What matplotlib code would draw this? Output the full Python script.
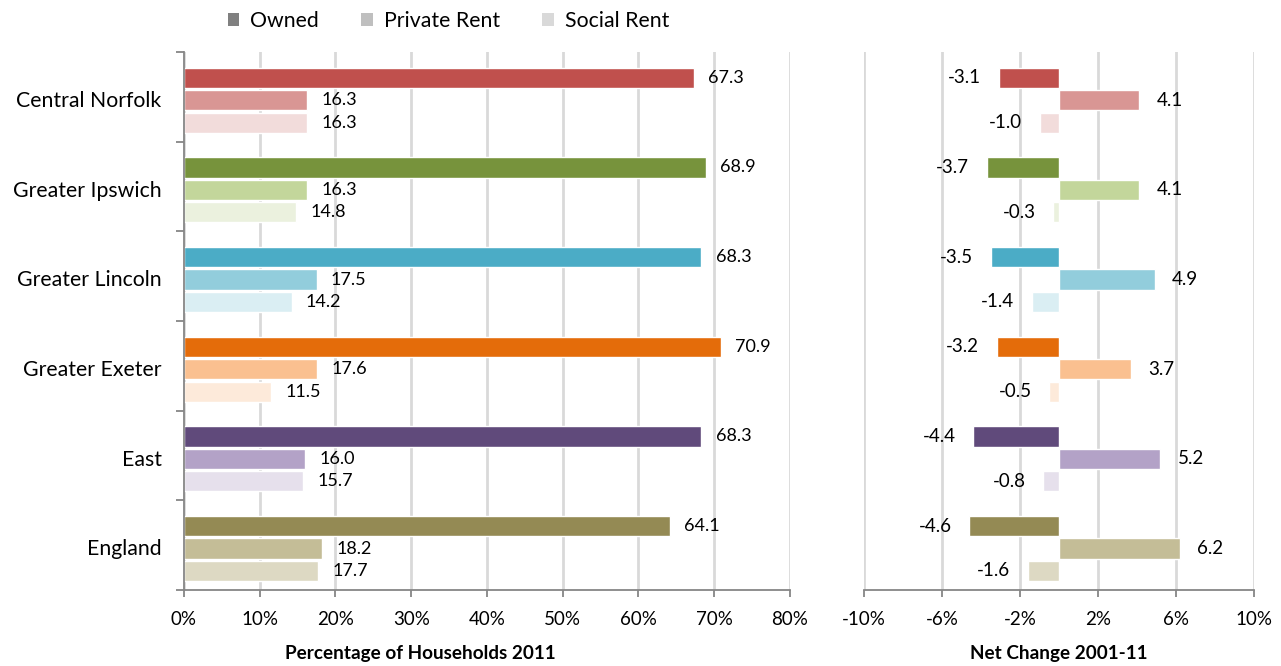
import numpy as np
import matplotlib.pyplot as plt
from matplotlib.patches import Patch

plt.rcParams['font.family'] = ['Lato', 'DejaVu Sans']

areas = ["Central Norfolk", "Greater Ipswich", "Greater Lincoln",
         "Greater Exeter", "East", "England"]
tenures = ["Owned", "Private Rent", "Social Rent"]

# share of households 2011 (%)
owned_2011 = [67.3, 68.9, 68.3, 70.9, 68.3, 64.1]
private_2011 = [16.3, 16.3, 17.5, 17.6, 16.0, 18.2]
social_2011 = [16.3, 14.8, 14.2, 11.5, 15.7, 17.7]

# net change 2001-11 (percentage points)
owned_chg = [-3.1, -3.7, -3.5, -3.2, -4.4, -4.6]
private_chg = [4.1, 4.1, 4.9, 3.7, 5.2, 6.2]
social_chg = [-1.0, -0.3, -1.4, -0.5, -0.8, -1.6]

palette = [
    ["#C0504D", "#D99694", "#F2DCDB"],
    ["#77933C", "#C3D69B", "#EBF1DE"],
    ["#4BACC6", "#92CDDC", "#DAEEF3"],
    ["#E46C0A", "#FAC090", "#FDEADA"],
    ["#604A7B", "#B3A2C7", "#E6E0EC"],
    ["#948A54", "#C4BD97", "#DDD9C3"],
]
legend_grey = ["#808080", "#BFBFBF", "#D9D9D9"]

left_series = [owned_2011, private_2011, social_2011]
right_series = [owned_chg, private_chg, social_chg]

fig = plt.figure(figsize=(12.81, 6.66), dpi=100)
ax1 = fig.add_axes([0.1436, 0.1141, 0.4731, 0.8078])
ax2 = fig.add_axes([0.6745, 0.1141, 0.3044, 0.8078])

grid_c = "#D9D9D9"
axis_c = "#868686"
span = 4.0
offsets = [1.15, 2.15, 3.15]
bar_h = 0.9


def style_axis(ax):
    ax.set_ylim(span * len(areas), 0)
    ax.set_axisbelow(True)
    ax.grid(axis="x", color=grid_c, linewidth=2)
    for s in ["top", "right"]:
        ax.spines[s].set_visible(False)
    ax.spines["bottom"].set_color(axis_c)
    ax.spines["bottom"].set_linewidth(1.3)
    ax.tick_params(axis="x", colors=axis_c, length=5, width=1.3,
                   labelcolor="black", labelsize=13.5, pad=10)


for g in range(len(areas)):
    for k in range(3):
        y = span * g + offsets[k]
        v = left_series[k][g]
        ax1.barh(y, v, height=bar_h, color=palette[g][k],
                 edgecolor="white", linewidth=1)
        ax1.text(v + 1.9, y, f"{v:.1f}", va="center", ha="left", fontsize=13)

        c = right_series[k][g]
        ax2.barh(y, c, height=bar_h, color=palette[g][k],
                 edgecolor="white", linewidth=1)
        if c < 0:
            ax2.text(c - 0.9, y, f"{c:.1f}", va="center", ha="right", fontsize=13.5)
        else:
            ax2.text(c + 0.9, y, f"{c:.1f}", va="center", ha="left", fontsize=13.5)

style_axis(ax1)
ax1.set_xlim(0, 80)
ax1.set_xticks(np.arange(0, 81, 10))
ax1.set_xticklabels([f"{t}%" for t in range(0, 81, 10)])
ax1.spines["left"].set_color(axis_c)
ax1.spines["left"].set_linewidth(1.3)
ax1.set_yticks(np.arange(0, span * len(areas) + 0.1, span))
ax1.set_yticklabels([])
ax1.set_yticks([span * g + 2.1 for g in range(len(areas))], minor=True)
ax1.set_yticklabels(areas, minor=True, fontsize=15.3)
ax1.tick_params(axis="y", which="major", colors=axis_c, length=6, width=1.3)
ax1.tick_params(axis="y", which="minor", length=0, pad=16)

style_axis(ax2)
ax2.set_xlim(-10, 10)
ax2.set_xticks([-10, -6, -2, 2, 6, 10])
ax2.set_xticklabels(["-10%", "-6%", "-2%", "2%", "6%", "10%"])
ax2.spines["left"].set_visible(False)
ax2.set_yticks([])

fig.text(0.328, 0.006, "Percentage of Households 2011", ha="center",
         va="bottom", fontsize=13.6, fontweight="bold")
fig.text(0.8267, 0.006, "Net Change 2001-11", ha="center",
         va="bottom", fontsize=13.6, fontweight="bold")

handles = [Patch(facecolor=legend_grey[k], edgecolor="none", label=tenures[k])
           for k in range(3)]
fig.legend(handles=handles, loc="center", bbox_to_anchor=(0.35, 0.968),
           ncol=3, frameon=False, fontsize=15.3, handlelength=0.55,
           handleheight=0.55, handletextpad=0.5, columnspacing=2.0)

fig.savefig("out.png", dpi=100)
